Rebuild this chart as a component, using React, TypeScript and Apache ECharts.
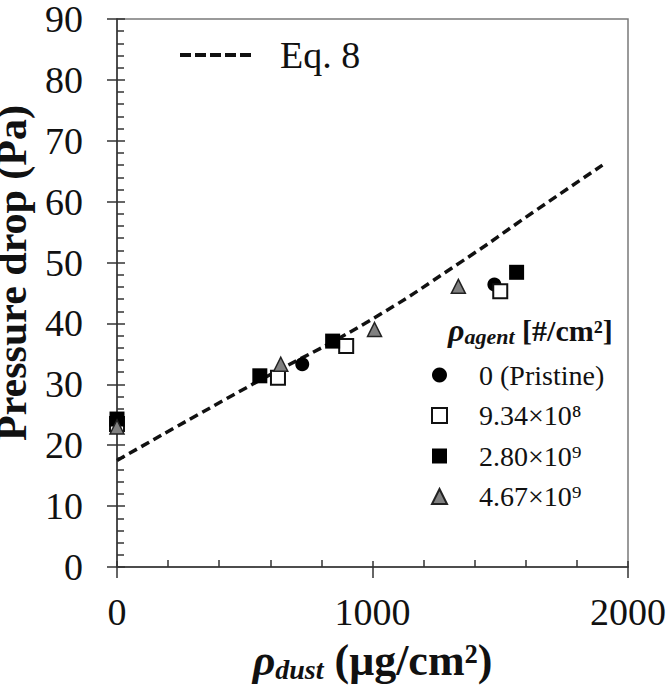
import React, { useEffect, useRef } from "react";
import * as echarts from "echarts";

// Eq. 8 model curve
const eq8X = [0, 530, 970, 1350, 1630, 1900];
const eq8Y = [17.5, 30.0, 40.0, 50.2, 58.3, 66.0];

// Measured pressure drops
const pristineX = [0, 725, 1477];
const pristineY = [23.5, 33.3, 46.4];
const agent934X = [0, 630, 897, 1500];
const agent934Y = [23.5, 31.1, 36.3, 45.3];
const agent280X = [0, 559, 844, 1564];
const agent280Y = [24.3, 31.4, 37.1, 48.4];
const agent467X = [0, 641, 1008, 1336];
const agent467Y = [23.0, 33.3, 39.0, 46.1];

const seriesNames = ["0 (Pristine)", "9.34×10⁸", "2.80×10⁹", "4.67×10⁹"];
const lineName = "Eq. 8";

const FONT = "Liberation Serif";

const zip = (xs: number[], ys: number[]) => xs.map((x, i) => [x, ys[i]]);

export default function App() {
  const ref = useRef<HTMLDivElement>(null);
  useEffect(() => {
    if (!ref.current) return;
    const chart = echarts.init(ref.current, null, { renderer: "svg" });
    const axisCol = "#333";
    const baseX = {
      type: "value",
      min: 0,
      max: 2000,
      interval: 1000,
      splitLine: { show: false },
    };
    const baseY = {
      type: "value",
      min: 0,
      max: 90,
      interval: 10,
      splitLine: { show: false },
    };
    chart.setOption({
      animation: false,
      backgroundColor: "#fff",
      textStyle: { fontFamily: FONT },
      grid: {
        left: 117,
        right: 38,
        top: 19,
        bottom: 118,
        show: true,
        borderColor: "#7a7a7a",
        borderWidth: 1.5,
        outerBoundsMode: "none",
        containLabel: false,
      },
      xAxis: [
        {
          ...baseX,
          axisLine: { show: true, lineStyle: { color: axisCol, width: 1.5 } },
          axisTick: { show: true, inside: false, length: 11, lineStyle: { color: axisCol, width: 1.5 } },
          minorTick: { show: false },
          axisLabel: {
            fontFamily: FONT,
            fontSize: 38,
            color: "#111",
            margin: 26,
            formatter: (v: number) => String(v),
          },
          name: `{rho|ρ}{sub|dust}{b| (μg/cm²)}`,
          nameLocation: "middle",
          nameGap: 70,
          nameTextStyle: {
            fontFamily: FONT,
            color: "#111",
            rich: {
              rho: { fontFamily: FONT, fontSize: 44, fontStyle: "italic", fontWeight: "bold", color: "#111" },
              sub: { fontFamily: FONT, fontSize: 28, fontStyle: "italic", fontWeight: "bold", color: "#111", verticalAlign: "bottom", lineHeight: 46 },
              b: { fontFamily: FONT, fontSize: 44, fontWeight: "bold", color: "#111" },
            },
          },
        },
        {
          ...baseX,
          position: "bottom",
          axisLine: { show: false },
          axisTick: { show: true, inside: true, length: 6, lineStyle: { color: axisCol, width: 1.5 } },
          minorTick: { show: true, splitNumber: 5, length: 7, lineStyle: { color: axisCol, width: 1.5 } },
          axisLabel: { show: false },
        },
      ],
      yAxis: [
        {
          ...baseY,
          axisLine: { show: true, lineStyle: { color: axisCol, width: 1.5 } },
          axisTick: { show: true, inside: false, length: 10, lineStyle: { color: axisCol, width: 1.5 } },
          minorTick: { show: false },
          axisLabel: { fontFamily: FONT, fontSize: 38, lineHeight: 32, color: "#111", margin: 34 },
          name: "Pressure drop (Pa)",
          nameLocation: "middle",
          nameGap: 72,
          nameTextStyle: {
            fontFamily: FONT,
            fontSize: 42,
            lineHeight: 44,
            fontWeight: "bold",
            color: "#111",
            padding: [0, 0, 0, 40],
          },
        },
        {
          ...baseY,
          position: "left",
          axisLine: { show: false },
          axisTick: { show: true, inside: true, length: 8, lineStyle: { color: axisCol, width: 1.5 } },
          minorTick: { show: true, splitNumber: 5, length: 7, lineStyle: { color: axisCol, width: 1.5 } },
          axisLabel: { show: false },
        },
      ],
      legend: [
        {
          data: [lineName],
          left: 173,
          top: 31,
          itemWidth: 73,
          itemHeight: 6,
          itemStyle: { opacity: 0 },
          lineStyle: { width: 4, type: [11, 4], color: "#111" },
          textStyle: { fontFamily: FONT, fontSize: 38, color: "#111", padding: [0, 0, 0, 22] },
        },
        {
          data: seriesNames,
          orient: "vertical",
          left: 426,
          top: 355,
          itemWidth: 15,
          itemHeight: 15,
          itemGap: 10.5,
          textStyle: { fontFamily: FONT, fontSize: 28, color: "#111", lineHeight: 30, padding: [0, 0, 0, 27] },
        },
      ],
      graphic: [
        {
          type: "text",
          left: 448,
          top: 314,
          style: {
            text: "{rho|ρ}{sub|agent}{b| [#/cm²]}",
            fill: "#111",
            fontFamily: FONT,
            rich: {
              rho: { fontFamily: FONT, fontSize: 32, fontStyle: "italic", fontWeight: "bold", fill: "#111" },
              sub: { fontFamily: FONT, fontSize: 22, fontStyle: "italic", fontWeight: "bold", fill: "#111", verticalAlign: "bottom", lineHeight: 34 },
              b: { fontFamily: FONT, fontSize: 30, fontWeight: "bold", fill: "#111" },
            },
          },
        },
      ],
      series: [
        {
          name: lineName,
          type: "line",
          data: zip(eq8X, eq8Y),
          smooth: true,
          symbol: "none",
          showSymbol: false,
          lineStyle: { color: "#111", width: 3.5, type: [9, 5] },
          itemStyle: { color: "#111" },
          z: 1,
        },
        {
          name: seriesNames[0],
          type: "scatter",
          data: zip(pristineX, pristineY),
          symbol: "circle",
          symbolSize: 14,
          itemStyle: { color: "#000", opacity: 1 },
          z: 2,
        },
        {
          name: seriesNames[1],
          type: "scatter",
          data: zip(agent934X, agent934Y),
          symbol: "rect",
          symbolSize: 14,
          itemStyle: { color: "#fff", borderColor: "#111", borderWidth: 2, opacity: 1 },
          z: 3,
        },
        {
          name: seriesNames[2],
          type: "scatter",
          data: zip(agent280X, agent280Y),
          symbol: "rect",
          symbolSize: 15,
          itemStyle: { color: "#000", opacity: 1 },
          z: 4,
        },
        {
          name: seriesNames[3],
          type: "scatter",
          data: zip(agent467X, agent467Y),
          symbol: "triangle",
          symbolSize: 14,
          itemStyle: { color: "#808080", borderColor: "#222", borderWidth: 1.5, opacity: 1 },
          z: 5,
        },
      ],
    });
    return () => chart.dispose();
  }, []);
  return (
    <div
      ref={ref}
      style={{ position: "fixed", left: 0, top: 0, width: 666, height: 685, background: "#fff" }}
    />
  );
}
